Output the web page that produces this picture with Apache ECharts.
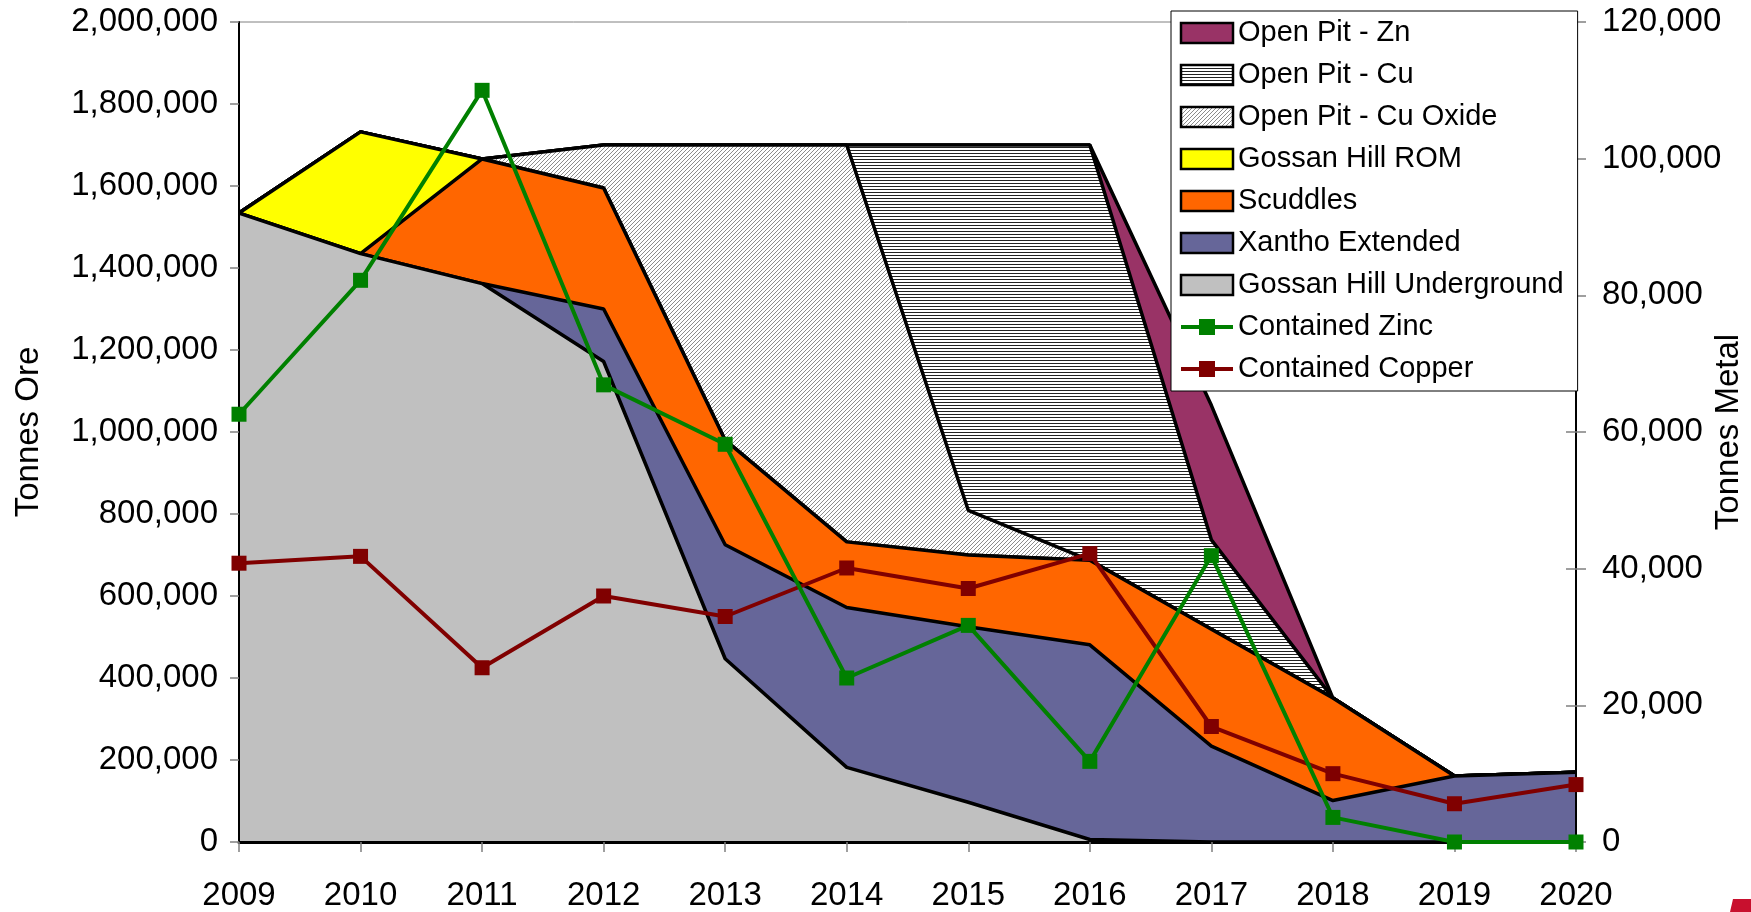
<!DOCTYPE html>
<html>
<head>
<meta charset="utf-8">
<script src="https://cdn.jsdelivr.net/npm/echarts@6/dist/echarts.min.js"></script>
<style>
    html, body { margin: 0; padding: 0; background: #fff; }
    #chart { width: 1751px; height: 912px; }
</style>
</head>
<body>
<div id="chart"></div>
<script>
const years = ["2009", "2010", "2011", "2012", "2013", "2014", "2015", "2016", "2017", "2018", "2019", "2020"];

// tonnes ore, stacked bottom to top
const gossanUnderground = [1534000, 1435000, 1362000, 1172000, 447000, 182000, 97000, 6000, 0, 0, 0, 0];
const xanthoExtended = [0, 0, 0, 128000, 278000, 390000, 428000, 475000, 234000, 101000, 161000, 170000];
const scuddles = [0, 0, 304000, 295000, 255000, 160000, 175000, 206000, 285000, 250000, 0, 0];
const gossanROM = [0, 297000, 0, 0, 0, 0, 0, 0, 0, 0, 0, 0];
const openPitCuOxide = [0, 0, 0, 105000, 720000, 968000, 109000, 0, 0, 0, 0, 0];
const openPitCu = [0, 0, 0, 0, 0, 0, 891000, 1013000, 218000, 0, 0, 0];
const openPitZn = [0, 0, 0, 0, 0, 0, 0, 0, 328000, 0, 0, 0];

// tonnes metal (right axis)
const containedZinc = [62600, 82200, 110000, 66900, 58200, 24000, 31700, 11800, 41900, 3600, 0, 0];
const containedCopper = [40800, 41800, 25500, 36000, 33000, 40100, 37100, 42200, 16900, 10000, 5600, 8400];

const fontFamily = "'Liberation Sans', Arial, sans-serif";

// hatch fills for the open pit copper series
function diagPattern() {
    const c = document.createElement("canvas");
    c.width = 4;
    c.height = 4;
    const ctx = c.getContext("2d");
    ctx.fillStyle = "#fff";
    ctx.fillRect(0, 0, 4, 4);
    ctx.fillStyle = "#8c8c8c";
    for (let i = 0; i < 4; i++) ctx.fillRect(i, 3 - i, 1, 1);
    return { image: c, repeat: "repeat" };
}

function horizPattern() {
    const c = document.createElement("canvas");
    c.width = 4;
    c.height = 3;
    const ctx = c.getContext("2d");
    ctx.fillStyle = "#fff";
    ctx.fillRect(0, 0, 4, 3);
    ctx.fillStyle = "#222";
    ctx.fillRect(0, 0, 4, 1);
    return { image: c, repeat: "repeat" };
}

const fills = {
    "Gossan Hill Underground": "#c0c0c0",
    "Xantho Extended": "#666699",
    "Scuddles": "#ff6600",
    "Gossan Hill ROM": "#ffff00",
    "Open Pit - Cu Oxide": diagPattern(),
    "Open Pit - Cu": horizPattern(),
    "Open Pit - Zn": "#993366",
};

function areaSeries(name, data, idx) {
    return {
        name: name,
        type: "line",
        stack: "ore",
        data: data,
        symbol: "none",
        lineStyle: { color: "#000", width: 3.5 },
        areaStyle: { color: fills[name], opacity: 1 },
        itemStyle: { color: fills[name] },
        emphasis: { disabled: true },
        z: 10 - idx,
    };
}

function metalSeries(name, data, color) {
    return {
        name: name,
        type: "line",
        yAxisIndex: 1,
        data: data,
        symbol: "rect",
        symbolSize: 15,
        lineStyle: { color: color, width: 4 },
        itemStyle: { color: color },
        emphasis: { disabled: true },
        z: 20,
    };
}

const areaNames = ["Open Pit - Zn", "Open Pit - Cu", "Open Pit - Cu Oxide", "Gossan Hill ROM", "Scuddles", "Xantho Extended", "Gossan Hill Underground"];

const legendData = areaNames
    .map((n) => ({
        name: n,
        icon: "rect",
        itemStyle: { color: fills[n], borderColor: "#000", borderWidth: 2.5 },
    }))
    .concat([
        { name: "Contained Zinc", lineStyle: { width: 4 } },
        { name: "Contained Copper", lineStyle: { width: 4 } },
    ]);

const fmt = (v) => v.toLocaleString("en-US");

const chart = echarts.init(document.getElementById("chart"));
chart.setOption({
    animation: false,
    textStyle: { fontFamily: fontFamily },
    grid: {
        left: 239,
        right: 175,
        top: 22,
        bottom: 70,
        outerBoundsMode: "none",
        containLabel: false,
        show: true,
        borderColor: "#808080",
        borderWidth: 1,
    },
    legend: {
        orient: "vertical",
        left: 1171,
        top: 11,
        padding: [6, 14, 6, 8],
        itemWidth: 52,
        itemHeight: 20,
        itemGap: 10,
        backgroundColor: "#fff",
        borderColor: "#000",
        borderWidth: 1,
        borderRadius: 0,
        selectedMode: false,
        textStyle: { fontSize: 29, color: "#000", lineHeight: 32, fontFamily: fontFamily },
        data: legendData,
        z: 30,
    },
    xAxis: {
        type: "category",
        data: years,
        boundaryGap: false,
        axisLine: { lineStyle: { color: "#000", width: 3 } },
        axisTick: { length: 10, lineStyle: { color: "#808080", width: 1.5 } },
        axisLabel: { color: "#000", fontSize: 33, margin: 37, fontFamily: fontFamily },
        splitLine: { show: false },
        z: 15,
    },
    yAxis: [
        {
            type: "value",
            min: 0,
            max: 2000000,
            interval: 200000,
            position: "left",
            name: "Tonnes Ore",
            nameLocation: "middle",
            nameGap: 194,
            nameRotate: 90,
            nameMoveOverlap: false,
            nameTextStyle: { fontSize: 33, color: "#000", fontFamily: fontFamily },
            axisLine: { show: true, lineStyle: { color: "#000", width: 2 } },
            axisTick: { show: true, length: 9, lineStyle: { color: "#808080", width: 1.5 } },
            axisLabel: { color: "#000", fontSize: 33, margin: 21, formatter: fmt, fontFamily: fontFamily },
            splitLine: { show: false },
            z: 15,
        },
        {
            type: "value",
            min: 0,
            max: 120000,
            interval: 20000,
            position: "right",
            name: "Tonnes Metal",
            nameLocation: "middle",
            nameGap: 136,
            nameRotate: 90,
            nameMoveOverlap: false,
            nameTextStyle: { fontSize: 33, color: "#000", fontFamily: fontFamily },
            axisLine: { show: true, lineStyle: { color: "#000", width: 2 } },
            axisTick: { show: true, length: 10, lineStyle: { color: "#808080", width: 1.5 } },
            axisLabel: { color: "#000", fontSize: 33, margin: 26, formatter: fmt, fontFamily: fontFamily },
            splitLine: { show: false },
            z: 15,
        },
        {
            // inner half of the crossing ticks on the right axis
            type: "value",
            min: 0,
            max: 120000,
            interval: 20000,
            position: "right",
            axisLine: { show: false },
            axisTick: { show: true, inside: true, length: 10, lineStyle: { color: "#808080", width: 1.5 } },
            axisLabel: { show: false },
            splitLine: { show: false },
            z: 15,
        },
    ],
    series: [
        areaSeries("Gossan Hill Underground", gossanUnderground, 0),
        areaSeries("Xantho Extended", xanthoExtended, 1),
        areaSeries("Scuddles", scuddles, 2),
        areaSeries("Gossan Hill ROM", gossanROM, 3),
        areaSeries("Open Pit - Cu Oxide", openPitCuOxide, 4),
        areaSeries("Open Pit - Cu", openPitCu, 5),
        areaSeries("Open Pit - Zn", openPitZn, 6),
        metalSeries("Contained Copper", containedCopper, "#800000"),
        metalSeries("Contained Zinc", containedZinc, "#008000"),
    ],
    graphic: [
        {
            type: "polygon",
            silent: true,
            shape: { points: [[1733, 899], [1751, 899], [1751, 912], [1730, 912]] },
            style: { fill: "#c8102e" },
        },
    ],
});
</script>
</body>
</html>
